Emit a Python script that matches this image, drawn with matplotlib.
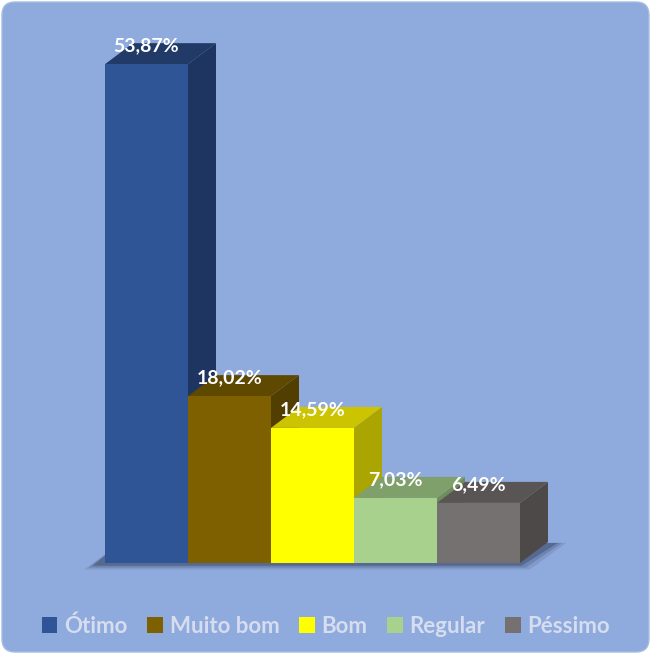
import matplotlib.pyplot as plt
from matplotlib.patches import Polygon, FancyBboxPatch, Patch

categorias = ['Ótimo', 'Muito bom', 'Bom', 'Regular', 'Péssimo']
valores = [53.87, 18.02, 14.59, 7.03, 6.49]
rotulos = ['53,87%', '18,02%', '14,59%', '7,03%', '6,49%']

cor_frente = ['#2F5597', '#7F6000', '#FFFF00', '#A9D18E', '#767171']
cor_topo = ['#213A68', '#5F4800', '#CCC400', '#7FA06B', '#5A5555']
cor_lado = ['#1F3561', '#523E00', '#AAA500', '#6E8C5C', '#4E4949']

W, H = 652, 654
fig = plt.figure(figsize=(W / 100, H / 100), dpi=100)
fig.patch.set_facecolor('white')

# fundo azul com cantos arredondados
fundo = FancyBboxPatch((2 / W, 2 / H), 647 / W, 650 / H,
                       boxstyle='round,pad=0,rounding_size=0.02',
                       transform=fig.transFigure, fc='#8FAADC', ec='#A5BCE3', lw=1,
                       zorder=-5)
fig.patches.append(fundo)

ax = fig.add_axes([0, 0, 1, 1])
ax.set_axis_off()
ax.patch.set_alpha(0)

# escala: barra com 83 px de largura, base em y=563 px
larg_px, x0_px, base_px, py = 83, 105, 563, 9.26
ax.set_xlim(-x0_px / larg_px, (W - x0_px) / larg_px)
ax.set_ylim(-(H - base_px) / py, base_px / py)
dx = 28 / larg_px
dy = 21 / py

n = len(valores)
# sombra no chao
for k, a in enumerate([0.12, 0.18, 0.3]):
    g = 0.05 * (2 - k)
    ax.add_patch(Polygon([(-0.15 - g, -0.3 - g * 4), (n + 0.02 + g, -0.3 - g * 4),
                          (n + dx + 0.12 + g, dy - 0.1), (dx - 0.15, dy - 0.1)],
                         closed=True, fc='#1F2A44', ec='none', alpha=a))

for i, v in enumerate(valores):
    l, r = i, i + 1
    ax.add_patch(Polygon([(r, 0), (r + dx, dy), (r + dx, v + dy), (r, v)],
                         closed=True, fc=cor_lado[i], ec='none'))
    ax.add_patch(Polygon([(l, v), (r, v), (r + dx, v + dy), (l + dx, v + dy)],
                         closed=True, fc=cor_topo[i], ec='none'))
    ax.add_patch(Polygon([(l, 0), (r, 0), (r, v), (l, v)],
                         closed=True, fc=cor_frente[i], ec='none'))

for i, v in enumerate(valores):
    ax.text(i + 0.5, v + 2.0, rotulos[i], ha='center', va='center',
            color='white', fontsize=14, fontweight='bold', family='Lato')

handles = [Patch(fc=c, ec='none') for c in cor_frente]
fig.legend(handles, categorias, loc='center', bbox_to_anchor=(0.5, 1 - 626 / H),
           ncol=5, frameon=False, handlelength=0.7, handleheight=0.7,
           handletextpad=0.3, columnspacing=0.9, labelcolor='#D6DDEF',
           prop={'family': 'Lato', 'weight': 'bold', 'size': 16})

fig.savefig('out.png', dpi=100)
